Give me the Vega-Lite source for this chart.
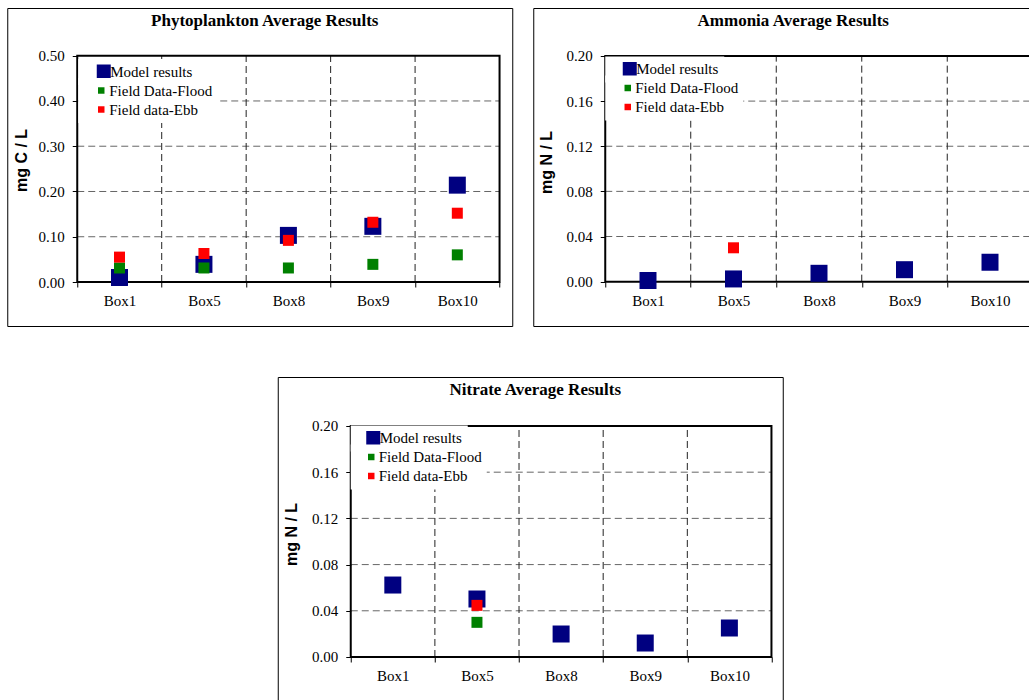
{
  "$schema": "https://vega.github.io/schema/vega-lite/v6.json",
  "padding": {"left": 6, "top": 7, "right": 0, "bottom": 0},
  "background": "white",
  "config": {
    "view": {"stroke": "black", "strokeWidth": 1},
    "font": "Liberation Serif",
    "axis": {"labelFont": "Liberation Serif", "labelFontSize": 15, "labelColor": "black", "tickColor": "black", "tickSize": 5, "tickWidth": 1, "domain": false, "grid": false, "labelOverlap": false, "labelFlush": false, "titleFont": "Liberation Sans", "titleFontSize": 16, "titleFontWeight": "bold", "titleColor": "black"},
    "title": {"font": "Liberation Serif", "fontSize": 17, "fontWeight": "bold", "color": "black", "anchor": "middle"},
    "legend": {"labelFont": "Liberation Serif", "labelFontSize": 15, "labelColor": "black", "title": null, "orient": "none", "fillColor": "white", "padding": 5, "symbolType": "square", "symbolStrokeWidth": 0, "rowPadding": 3}
  },
  "datasets": {
    "phyto": [
      {"box": "Box1", "series": "Model results", "value": 0.010},
      {"box": "Box5", "series": "Model results", "value": 0.039},
      {"box": "Box8", "series": "Model results", "value": 0.103},
      {"box": "Box9", "series": "Model results", "value": 0.123},
      {"box": "Box10", "series": "Model results", "value": 0.214},
      {"box": "Box1", "series": "Field Data-Flood", "value": 0.031},
      {"box": "Box5", "series": "Field Data-Flood", "value": 0.031},
      {"box": "Box8", "series": "Field Data-Flood", "value": 0.031},
      {"box": "Box9", "series": "Field Data-Flood", "value": 0.039},
      {"box": "Box10", "series": "Field Data-Flood", "value": 0.060},
      {"box": "Box1", "series": "Field data-Ebb", "value": 0.055},
      {"box": "Box5", "series": "Field data-Ebb", "value": 0.063},
      {"box": "Box8", "series": "Field data-Ebb", "value": 0.092},
      {"box": "Box9", "series": "Field data-Ebb", "value": 0.132},
      {"box": "Box10", "series": "Field data-Ebb", "value": 0.152}
    ],
    "ammonia": [
      {"box": "Box1", "series": "Model results", "value": 0.001},
      {"box": "Box5", "series": "Model results", "value": 0.0024},
      {"box": "Box8", "series": "Model results", "value": 0.0074},
      {"box": "Box9", "series": "Model results", "value": 0.0106},
      {"box": "Box10", "series": "Model results", "value": 0.0172},
      {"box": "Box5", "series": "Field data-Ebb", "value": 0.030}
    ],
    "nitrate": [
      {"box": "Box1", "series": "Model results", "value": 0.0623},
      {"box": "Box5", "series": "Model results", "value": 0.0502},
      {"box": "Box8", "series": "Model results", "value": 0.0199},
      {"box": "Box9", "series": "Model results", "value": 0.0121},
      {"box": "Box10", "series": "Model results", "value": 0.0251},
      {"box": "Box5", "series": "Field Data-Flood", "value": 0.030},
      {"box": "Box5", "series": "Field data-Ebb", "value": 0.0447}
    ],
    "hgrid1": [{"v": 0.1}, {"v": 0.2}, {"v": 0.3}, {"v": 0.4}],
    "hgrid2": [{"v": 0.04}, {"v": 0.08}, {"v": 0.12}, {"v": 0.16}],
    "vgrid": [{"b": "Box5"}, {"b": "Box8"}, {"b": "Box9"}, {"b": "Box10"}],
    "one": [{}]
  },
  "spacing": 49,
  "center": true,
  "resolve": {"scale": {"color": "independent", "fill": "independent"}, "legend": {"color": "independent", "fill": "independent"}},
  "vconcat": [
    {
      "spacing": 19,
      "resolve": {"scale": {"color": "independent", "fill": "independent"}, "legend": {"color": "independent", "fill": "independent"}},
      "hconcat": [
        {
          "width": 505, "height": 318,
          "title": {"text": "Phytoplankton Average Results", "offset": -22, "dx": 5},
          "layer": [
            {
              "data": {"name": "hgrid1"},
              "mark": {"type": "rule", "color": "#666666", "strokeDash": [7, 4], "strokeWidth": 1},
              "encoding": {
                "y": {"field": "v", "type": "quantitative", "scale": {"domain": [-0.0972, 0.6054], "nice": false, "zero": false},
                  "axis": {"values": [0, 0.1, 0.2, 0.3, 0.4, 0.5], "format": ".2f", "offset": -70, "labelPadding": 8, "title": "mg C / L", "titleX": -48, "titleY": 152}},
                "x": {"datum": "Box1", "type": "nominal", "bandPosition": 0,
                  "scale": {"domain": ["Box1", "Box5", "Box8", "Box9", "Box10"], "type": "band", "paddingInner": 0, "paddingOuter": 0.4896, "align": 0.8464},
                  "axis": {"offset": -44, "tickBand": "extent", "labelAngle": 0, "labelPadding": 6, "title": null}},
                "x2": {"datum": "Box10", "bandPosition": 1}
              }
            },
            {
              "data": {"name": "vgrid"},
              "mark": {"type": "rule", "color": "#222222", "strokeDash": [7, 4], "strokeWidth": 1},
              "encoding": {
                "x": {"field": "b", "type": "nominal", "bandPosition": 0},
                "y": {"datum": 0, "type": "quantitative"},
                "y2": {"datum": 0.5}
              }
            },
            {
              "data": {"name": "one"},
              "mark": {"type": "rect", "filled": false, "stroke": "black", "strokeWidth": 2},
              "encoding": {
                "x": {"datum": "Box1", "type": "nominal", "bandPosition": 0},
                "x2": {"datum": "Box10", "bandPosition": 1},
                "y": {"datum": 0, "type": "quantitative"},
                "y2": {"datum": 0.5}
              }
            },
            {
              "data": {"name": "phyto"},
              "transform": [{"filter": "datum.series === 'Model results'"}],
              "mark": {"type": "point", "shape": "square", "filled": true, "opacity": 1, "size": 289},
              "encoding": {
                "x": {"field": "box", "type": "nominal"},
                "y": {"field": "value", "type": "quantitative"},
                "color": {"field": "series", "type": "nominal",
                  "scale": {"domain": ["Model results"], "range": ["#000080"]},
                  "legend": {"legendX": 71, "legendY": 51, "symbolSize": 196, "symbolOffset": 13, "labelOffset": -1}}
              }
            },
            {
              "data": {"name": "phyto"},
              "transform": [{"filter": "datum.series !== 'Model results'"}],
              "mark": {"type": "point", "shape": "square", "filled": true, "opacity": 1, "size": 121},
              "encoding": {
                "x": {"field": "box", "type": "nominal"},
                "y": {"field": "value", "type": "quantitative"},
                "fill": {"field": "series", "type": "nominal", "sort": null,
                  "scale": {"domain": ["Field Data-Flood", "Field data-Ebb"], "range": ["#008000", "#FF0000"]},
                  "legend": {"legendX": 71, "legendY": 70, "symbolSize": 42, "symbolOffset": 10.5, "labelOffset": 0.5}}
              }
            }
          ]
        },
        {
          "width": 520, "height": 318,
          "title": {"text": "Ammonia Average Results", "offset": -22, "dx": 0},
          "layer": [
            {
              "data": {"name": "hgrid2"},
              "mark": {"type": "rule", "color": "#666666", "strokeDash": [7, 4], "strokeWidth": 1},
              "encoding": {
                "y": {"field": "v", "type": "quantitative", "scale": {"domain": [-0.0393, 0.2425], "nice": false, "zero": false},
                  "axis": {"values": [0, 0.04, 0.08, 0.12, 0.16, 0.2], "format": ".2f", "offset": -72, "labelPadding": 8, "title": "mg N / L", "titleX": -51, "titleY": 154}},
                "x": {"datum": "Box1", "type": "nominal", "bandPosition": 0,
                  "scale": {"domain": ["Box1", "Box5", "Box8", "Box9", "Box10"], "type": "band", "paddingInner": 0, "paddingOuter": 0.5409, "align": 0.7784},
                  "axis": {"offset": -44, "tickBand": "extent", "labelAngle": 0, "labelPadding": 6, "title": null}},
                "x2": {"datum": "Box10", "bandPosition": 1}
              }
            },
            {
              "data": {"name": "vgrid"},
              "mark": {"type": "rule", "color": "#222222", "strokeDash": [7, 4], "strokeWidth": 1},
              "encoding": {
                "x": {"field": "b", "type": "nominal", "bandPosition": 0},
                "y": {"datum": 0, "type": "quantitative"},
                "y2": {"datum": 0.2}
              }
            },
            {
              "data": {"name": "one"},
              "mark": {"type": "rect", "filled": false, "stroke": "black", "strokeWidth": 2},
              "encoding": {
                "x": {"datum": "Box1", "type": "nominal", "bandPosition": 0},
                "x2": {"datum": "Box10", "bandPosition": 1},
                "y": {"datum": 0, "type": "quantitative"},
                "y2": {"datum": 0.2}
              }
            },
            {
              "data": {"name": "ammonia"},
              "transform": [{"filter": "datum.series === 'Model results'"}],
              "mark": {"type": "point", "shape": "square", "filled": true, "opacity": 1, "size": 289},
              "encoding": {
                "x": {"field": "box", "type": "nominal"},
                "y": {"field": "value", "type": "quantitative"},
                "color": {"field": "series", "type": "nominal",
                  "scale": {"domain": ["Model results"], "range": ["#000080"]},
                  "legend": {"legendX": 72, "legendY": 48.5, "symbolSize": 196, "symbolOffset": 12, "labelOffset": -1}}
              }
            },
            {
              "data": {"name": "ammonia"},
              "transform": [{"filter": "datum.series !== 'Model results'"}],
              "mark": {"type": "point", "shape": "square", "filled": true, "opacity": 1, "size": 121},
              "encoding": {
                "x": {"field": "box", "type": "nominal"},
                "y": {"field": "value", "type": "quantitative"},
                "fill": {"field": "series", "type": "nominal", "sort": null,
                  "scale": {"domain": ["Field Data-Flood", "Field data-Ebb"], "range": ["#008000", "#FF0000"]},
                  "legend": {"legendX": 72, "legendY": 67.5, "symbolSize": 42, "symbolOffset": 10, "labelOffset": 0}}
              }
            }
          ]
        }
      ]
    },
    {
      "width": 505, "height": 324,
      "title": {"text": "Nitrate Average Results", "offset": -22, "dx": 5},
      "layer": [
        {
          "data": {"name": "hgrid2"},
          "mark": {"type": "rule", "color": "#666666", "strokeDash": [7, 4], "strokeWidth": 1},
          "encoding": {
            "y": {"field": "v", "type": "quantitative", "scale": {"domain": [-0.0381, 0.2424], "nice": false, "zero": false},
              "axis": {"values": [0, 0.04, 0.08, 0.12, 0.16, 0.2], "format": ".2f", "offset": -73, "labelPadding": 8, "title": "mg N / L", "titleX": -51.5, "titleY": 157}},
            "x": {"datum": "Box1", "type": "nominal", "bandPosition": 0,
              "scale": {"domain": ["Box1", "Box5", "Box8", "Box9", "Box10"], "type": "band", "paddingInner": 0, "paddingOuter": 0.5009, "align": 0.866},
              "axis": {"offset": -44, "tickBand": "extent", "labelAngle": 0, "labelPadding": 6, "title": null}},
            "x2": {"datum": "Box10", "bandPosition": 1}
          }
        },
        {
          "data": {"name": "vgrid"},
          "mark": {"type": "rule", "color": "#222222", "strokeDash": [7, 4], "strokeWidth": 1},
          "encoding": {
            "x": {"field": "b", "type": "nominal", "bandPosition": 0},
            "y": {"datum": 0, "type": "quantitative"},
            "y2": {"datum": 0.2}
          }
        },
        {
          "data": {"name": "one"},
          "mark": {"type": "rect", "filled": false, "stroke": "black", "strokeWidth": 2},
          "encoding": {
            "x": {"datum": "Box1", "type": "nominal", "bandPosition": 0},
            "x2": {"datum": "Box10", "bandPosition": 1},
            "y": {"datum": 0, "type": "quantitative"},
            "y2": {"datum": 0.2}
          }
        },
        {
          "data": {"name": "nitrate"},
          "transform": [{"filter": "datum.series === 'Model results'"}],
          "mark": {"type": "point", "shape": "square", "filled": true, "opacity": 1, "size": 289},
          "encoding": {
            "x": {"field": "box", "type": "nominal"},
            "y": {"field": "value", "type": "quantitative"},
            "color": {"field": "series", "type": "nominal",
              "scale": {"domain": ["Model results"], "range": ["#000080"]},
              "legend": {"legendX": 73, "legendY": 48.5, "symbolSize": 196, "symbolOffset": 10, "labelOffset": -1}}
          }
        },
        {
          "data": {"name": "nitrate"},
          "transform": [{"filter": "datum.series !== 'Model results'"}],
          "mark": {"type": "point", "shape": "square", "filled": true, "opacity": 1, "size": 121},
          "encoding": {
            "x": {"field": "box", "type": "nominal"},
            "y": {"field": "value", "type": "quantitative"},
            "fill": {"field": "series", "type": "nominal", "sort": null,
              "scale": {"domain": ["Field Data-Flood", "Field data-Ebb"], "range": ["#008000", "#FF0000"]},
              "legend": {"legendX": 73, "legendY": 67.5, "symbolSize": 42, "symbolOffset": 8, "labelOffset": 0}}
          }
        }
      ]
    }
  ]
}
